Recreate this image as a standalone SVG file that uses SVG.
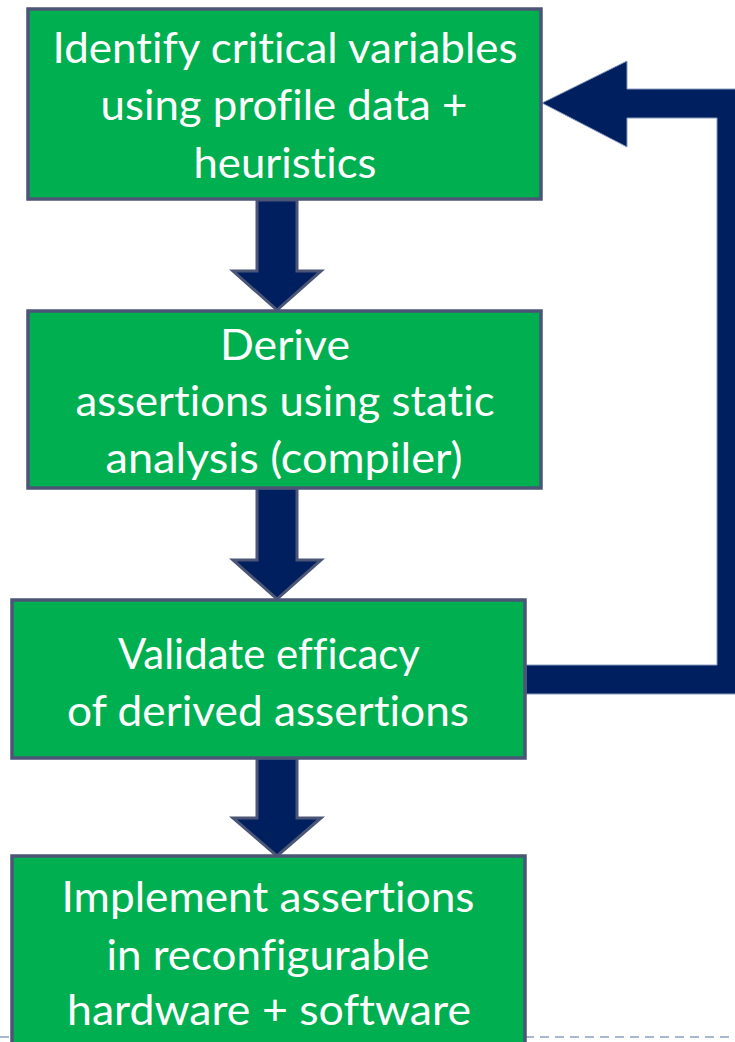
<svg xmlns="http://www.w3.org/2000/svg" width="735" height="1042" viewBox="0 0 735 1042">
  <style>
    .box { fill: #00B050; stroke: #4B5677; stroke-width: 3.5; }
    .lbl { font-family: "Lato", "Liberation Sans", sans-serif; font-size: 43px; fill: #FFFFFF; text-anchor: middle; font-variant-ligatures: none; font-feature-settings: "liga" 0, "dlig" 0; }
    .arrow { fill: #001F5F; stroke: #4B5677; stroke-width: 3; stroke-linejoin: miter; }
    .loop { fill: #001F5F; stroke: #8A9AC0; stroke-width: 1; }
    .rule { stroke: #A9B8D2; stroke-width: 2; stroke-dasharray: 9 6; fill: none; }
  </style>

  <!-- footer rule -->
  <line class="rule" x1="0" y1="1037" x2="735" y2="1037"/>

  <g id="connectors">
    <polygon id="a1" class="arrow" points="257,200 297,200 297,271 321,271 277,310 233,271 257,271"/>
    <polygon id="a2" class="arrow" points="257,488 297,488 297,560 321,560 277,599 233,560 257,560"/>
    <polygon id="a3" class="arrow" points="257,758 297,758 297,818 321,818 277,856 233,818 257,818"/>
    <polygon id="feedback" class="loop" points="526,665 717,665 717,118 627,118 627,147 542,103 627,61 627,89 746,89 746,694 526,694"/>
  </g>

  <g id="identify">
    <rect class="box" x="28" y="9" width="513" height="190"/>
    <text class="lbl" x="285" y="63" textLength="465" lengthAdjust="spacingAndGlyphs">Identify critical variables</text>
    <text class="lbl" x="284" y="120" textLength="367" lengthAdjust="spacingAndGlyphs">using profile data +</text>
    <text class="lbl" x="285" y="178" textLength="183" lengthAdjust="spacingAndGlyphs">heuristics</text>
  </g>

  <g id="derive">
    <rect class="box" x="28" y="311" width="513" height="177"/>
    <text class="lbl" x="285" y="360" textLength="130" lengthAdjust="spacingAndGlyphs">Derive</text>
    <text class="lbl" x="285" y="416" textLength="419" lengthAdjust="spacingAndGlyphs">assertions using static</text>
    <text class="lbl" x="284" y="473" textLength="357" lengthAdjust="spacingAndGlyphs">analysis (compiler)</text>
  </g>

  <g id="validate">
    <rect class="box" x="12" y="600" width="513" height="158"/>
    <text class="lbl" x="269" y="669" textLength="302" lengthAdjust="spacingAndGlyphs">Validate efficacy</text>
    <text class="lbl" x="268" y="726" textLength="402" lengthAdjust="spacingAndGlyphs">of derived assertions</text>
  </g>

  <g id="implement">
    <rect class="box" x="12" y="856" width="513" height="200"/>
    <text class="lbl" x="268" y="912" textLength="413" lengthAdjust="spacingAndGlyphs">Implement assertions</text>
    <text class="lbl" x="268" y="970" textLength="323" lengthAdjust="spacingAndGlyphs">in reconfigurable</text>
    <text class="lbl" x="269" y="1025" textLength="404" lengthAdjust="spacingAndGlyphs">hardware + software</text>
  </g>
</svg>
